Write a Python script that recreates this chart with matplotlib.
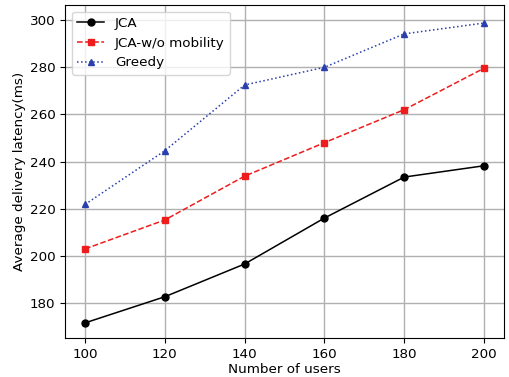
import matplotlib
matplotlib.use("Agg")
import matplotlib.pyplot as plt

users = [100, 120, 140, 160, 180, 200]
jca = [171.5, 182.6, 196.5, 216.0, 233.4, 238.2]
jca_wo = [202.9, 215.2, 233.8, 248.0, 262.0, 279.6]
greedy = [221.8, 244.6, 272.5, 280.0, 294.2, 298.8]

fig = plt.figure(figsize=(5.09, 3.77), dpi=100)
ax = fig.add_axes([0.128, 0.103, 0.862, 0.884])
ax.plot(users, jca, '-', color='black', marker='o', markersize=5, linewidth=1.1, label='JCA')
ax.plot(users, jca_wo, '--', color='#ee1c1c', marker='s', markersize=5, linewidth=1.1, label='JCA-w/o mobility')
ax.plot(users, greedy, ':', color='#2a3fae', marker='^', markersize=5, linewidth=1.1, label='Greedy')
ax.set_xlim(95, 205)
ax.set_ylim(165, 306.5)
ax.set_xticks(users)
ax.set_yticks([180, 200, 220, 240, 260, 280, 300])
ax.grid(True, color='#b0b0b0', linewidth=1.0)
ax.set_xlabel('Number of users', fontsize=9.7, labelpad=1.5)
ax.set_ylabel('Average delivery latency(ms)', fontsize=9.7, labelpad=3)
ax.tick_params(labelsize=9.7)
ax.legend(loc='upper left', fontsize=9.7)
fig.savefig('out.png', dpi=100)
